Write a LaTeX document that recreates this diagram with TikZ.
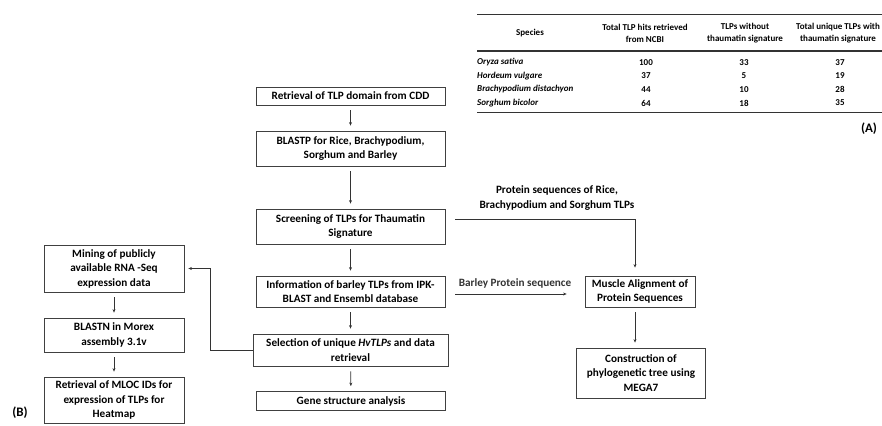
\documentclass[tikz,border=0pt]{standalone}
\usepackage{fontspec}
\setmainfont{Carlito}
\usetikzlibrary{arrows.meta}
\begin{document}
\begin{tikzpicture}[x=1pt,y=-1pt,
  box/.style={draw=black!75, line width=.8pt, align=center, inner sep=0pt, font=\bfseries\fontsize{11.2}{14.5}\selectfont},
  lbl/.style={align=center, inner sep=0pt, font=\bfseries\fontsize{11.2}{14.5}\selectfont},
  cell/.style={align=center, inner sep=0pt, font=\bfseries\fontsize{9}{12}\selectfont},
  spc/.style={anchor=west, inner sep=0pt, font=\bfseries\itshape\fontsize{9}{12}\selectfont},
  tag/.style={inner sep=0pt, font=\bfseries\fontsize{13}{15}\selectfont},
  arr/.style={-{Stealth[length=3.5pt,width=3pt]}, line width=.7pt, black!80, shorten <=5pt, shorten >=5pt}]
  \useasboundingbox (0,0) rectangle (882,425);
  \draw[line width=1.3pt, black!80] (477,14.5) -- (882,14.5);
  \node[cell] (hsp) at (530,33) {Species};
  \node[cell] (hhit) at (645,33) {Total TLP hits retrieved\\from NCBI};
  \node[cell] (hwo) at (745,33) {TLPs without\\thaumatin signature};
  \node[cell] (hwi) at (838,33) {Total unique TLPs with\\thaumatin signature};
  \draw[line width=2pt, black!80] (477,51) -- (882,51);
  \node[spc] (sp1) at (477,62.5) {Oryza sativa};
  \node[cell] (v11) at (646,62.5) {100};
  \node[cell] (v12) at (744,62.5) {33};
  \node[cell] (v13) at (840,62.5) {37};
  \node[spc] (sp2) at (477,76) {Hordeum vulgare};
  \node[cell] (v21) at (646,76) {37};
  \node[cell] (v22) at (744,76) {5};
  \node[cell] (v23) at (840,76) {19};
  \node[spc] (sp3) at (477,89.5) {Brachypodium distachyon};
  \node[cell] (v31) at (646,89.5) {44};
  \node[cell] (v32) at (744,89.5) {10};
  \node[cell] (v33) at (840,89.5) {28};
  \node[spc] (sp4) at (477,103) {Sorghum bicolor};
  \node[cell] (v41) at (646,103) {64};
  \node[cell] (v42) at (744,103) {18};
  \node[cell] (v43) at (840,103) {35};
  \draw[line width=1.3pt, black!80] (477,112.5) -- (882,112.5);
  \node[tag] (ta) at (869,129) {(A)};

  \node[box, minimum width=189, minimum height=18] (cdd) at (350.5,96) {Retrieval of TLP domain from CDD};
  \node[box, minimum width=189, minimum height=35] (blastp) at (350.5,148.5) {BLASTP for Rice, Brachypodium,\\Sorghum and Barley};
  \node[box, minimum width=189, minimum height=35] (screen) at (350.5,226.5) {Screening of TLPs for Thaumatin\\Signature};
  \node[box, minimum width=189, minimum height=31] (info) at (350.5,291.5) {Information of barley TLPs from IPK-\\BLAST and Ensembl database};
  \node[box, minimum width=195, minimum height=32] (select) at (350.5,350) {Selection of unique \textit{HvTLPs} and data\\retrieval};
  \node[box, minimum width=189, minimum height=19] (gene) at (351,401) {Gene structure analysis};

  \node[box, minimum width=140, minimum height=47] (mining) at (114,268.5) {Mining of publicly\\available RNA -Seq\\expression data};
  \node[box, minimum width=140, minimum height=34] (blastn) at (114,335) {BLASTN in Morex\\assembly 3.1v};
  \node[box, minimum width=140, minimum height=46] (mloc) at (114,400) {Retrieval of MLOC IDs for\\expression of TLPs for\\Heatmap};
  \node[tag] (tb) at (20,413) {(B)};

  \node[box, minimum width=110, minimum height=31] (muscle) at (640,291.5) {Muscle Alignment of\\Protein Sequences};
  \node[box, minimum width=129, minimum height=50] (tree) at (641,373) {Construction of\\phylogenetic tree using\\MEGA7};
  \node[lbl] (prot) at (557,198) {Protein sequences of Rice,\\Brachypodium and Sorghum TLPs};

  \draw[arr] (cdd) -- (blastp);
  \draw[arr] (blastp) -- (screen);
  \draw[arr] (screen) -- (info);
  \draw[arr] (info) -- (select);
  \draw[arr] (select) -- (gene);
  \draw[arr] (mining) -- (blastn);
  \draw[arr] (blastn) -- (mloc);
  \draw[arr, shorten <=0pt, shorten >=4pt] (select.west) -- ++(-42,0) |- (mining.east);
  \draw[arr, shorten <=10pt, shorten >=8pt] ([yshift=7.5pt]screen.east) -| ([xshift=-5pt]muscle.north);
  \draw[arr, shorten <=10pt, shorten >=18pt] ([yshift=-2.5pt]info.east) -- ([yshift=-2.5pt]info.east -| muscle.west) node[lbl, midway, above=5pt] (barley) {Barley Protein sequence};
  \draw[arr] ([xshift=-5pt]muscle.south) -- ([xshift=-6pt]tree.north);
\end{tikzpicture}
\end{document}
